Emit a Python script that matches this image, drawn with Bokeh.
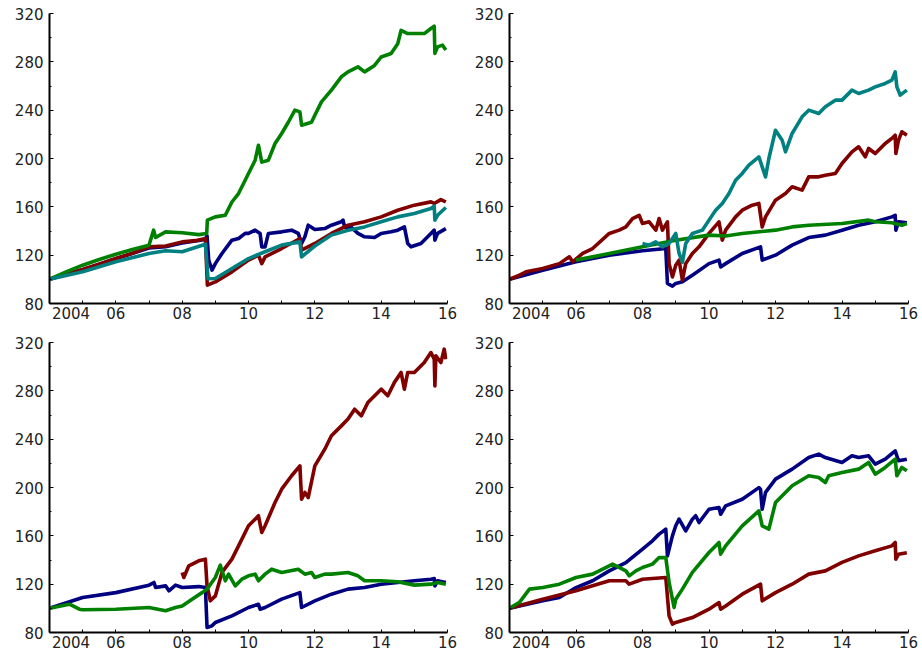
from bokeh.plotting import figure
from bokeh.layouts import column, row
from bokeh.models import FixedTicker, Range1d
from bokeh.embed import file_html
from bokeh.resources import INLINE

NAVY = "#000080"
RED = "#800000"
GREEN = "#008000"
TEAL = "#008080"

# ---- axis ticks / labels ----
Y_TICKS = [80, 120, 160, 200, 240, 280, 320]
Y_MINOR = [100, 140, 180, 220, 260, 300]
X_LABEL_POS = [2004.65, 2006, 2008, 2010, 2012, 2014, 2016]
X_LABELS = ["2004", "06", "08", "10", "12", "14", "16"]
X_YEARS = list(range(2005, 2017))

# ---- panel 1 (top-left) ----
p1_navy_x = [2004.0, 2005.0, 2006.0, 2007.0, 2007.5, 2008.0, 2008.7, 2008.75, 2008.8, 2008.9, 2009.0, 2009.2, 2009.5, 2009.7, 2009.9, 2010.0, 2010.2, 2010.35, 2010.4, 2010.5, 2010.6, 2011.0, 2011.3, 2011.5, 2011.6, 2011.7, 2011.8, 2012.0, 2012.3, 2012.5, 2012.8, 2012.85, 2012.9, 2013.1, 2013.3, 2013.5, 2013.8, 2014.0, 2014.3, 2014.5, 2014.7, 2014.8, 2014.9, 2015.2, 2015.5, 2015.6, 2015.62, 2015.7, 2015.95]
p1_navy_y = [100, 108, 117, 126, 127, 130, 133, 136, 116, 107.6, 113, 121.4, 132.4, 133.8, 138, 138, 140.7, 138, 126.9, 126.9, 138, 139.3, 140.7, 138, 129.7, 135.2, 144.8, 141.2, 142, 144.8, 147.6, 149, 143, 143, 138, 135.2, 134.6, 138, 139.3, 140.7, 143.4, 129.7, 126.9, 129.7, 138, 140.7, 132.4, 138, 142]
p1_red_x = [2004.0, 2004.5, 2005.0, 2005.5, 2006.0, 2006.5, 2007.0, 2007.5, 2008.0, 2008.4, 2008.7, 2008.76, 2009.0, 2009.5, 2010.0, 2010.3, 2010.4, 2010.5, 2011.0, 2011.55, 2011.6, 2012.0, 2012.5, 2013.0, 2013.5, 2014.0, 2014.5, 2015.0, 2015.5, 2015.6, 2015.8, 2015.95]
p1_red_y = [100, 104.5, 108.1, 112.5, 117.2, 121.5, 126.9, 127.6, 131, 132, 133.8, 95.2, 97.9, 106.2, 115.9, 120, 113, 118.6, 125.5, 133.8, 124.1, 129.7, 138, 144.8, 147.6, 151.7, 157.2, 161.4, 164.1, 162.8, 166, 164]
p1_green_x = [2004.0, 2004.5, 2005.0, 2005.5, 2006.0, 2006.5, 2007.0, 2007.14, 2007.2, 2007.5, 2008.0, 2008.5, 2008.74, 2008.76, 2009.0, 2009.3, 2009.5, 2009.7, 2010.0, 2010.2, 2010.3, 2010.4, 2010.6, 2010.8, 2011.0, 2011.2, 2011.4, 2011.55, 2011.6, 2011.9, 2012.0, 2012.2, 2012.5, 2012.8, 2013.0, 2013.3, 2013.5, 2013.8, 2014.0, 2014.3, 2014.5, 2014.6, 2014.8, 2015.0, 2015.3, 2015.5, 2015.6, 2015.62, 2015.7, 2015.85, 2015.95]
p1_green_y = [100, 106.2, 111.7, 116.4, 120.8, 124.7, 128.3, 140.7, 134.6, 139.3, 138.5, 137, 138, 149, 151.7, 153, 164, 171, 187.6, 198.6, 211, 197, 198.6, 212.4, 220.7, 230, 240, 238.6, 227.6, 230, 235.8, 246.9, 256.6, 267.6, 271.7, 275.9, 271.7, 277, 284, 286.9, 295, 306, 303.4, 303.4, 303.4, 307.6, 309.5, 287, 292.4, 293.8, 289.7]
p1_teal_x = [2004.0, 2005.0, 2006.0, 2007.0, 2007.5, 2008.0, 2008.7, 2008.78, 2009.0, 2009.5, 2010.0, 2010.5, 2011.0, 2011.55, 2011.6, 2012.0, 2012.5, 2013.0, 2013.5, 2014.0, 2014.5, 2015.0, 2015.5, 2015.6, 2015.62, 2015.7, 2015.95]
p1_teal_y = [100, 106.2, 114.5, 121.4, 123.6, 122.8, 129.1, 100.5, 100.7, 108.9, 117.2, 122.8, 128.3, 131, 118.6, 127.6, 136.6, 140.7, 143.4, 147.6, 151.7, 154.5, 158.6, 160.6, 149, 153, 159.4]

# ---- panel 2 (top-right) ----
p2_navy_x = [2004.0, 2005.0, 2006.0, 2007.0, 2008.0, 2008.7, 2008.75, 2008.9, 2009.0, 2009.2, 2009.5, 2010.0, 2010.3, 2010.35, 2010.5, 2011.0, 2011.55, 2011.6, 2012.0, 2012.5, 2013.0, 2013.5, 2014.0, 2014.5, 2015.0, 2015.5, 2015.6, 2015.62, 2015.7, 2015.95]
p2_navy_y = [100, 107.6, 114.5, 120, 123.6, 125.5, 96.6, 94.3, 96.6, 97.9, 103.4, 113, 115.9, 110.3, 113, 121.4, 126.9, 115.9, 120, 128.3, 134.6, 136.6, 140.7, 144.8, 147.6, 151.7, 153, 140.7, 147.6, 146.8]
p2_red_x = [2004.0, 2004.3, 2004.5, 2005.0, 2005.5, 2005.8, 2005.9, 2006.2, 2006.5, 2007.0, 2007.3, 2007.5, 2007.7, 2007.9, 2008.0, 2008.2, 2008.4, 2008.5, 2008.6, 2008.75, 2008.8, 2008.9, 2009.0, 2009.1, 2009.2, 2009.3, 2009.5, 2009.7, 2010.0, 2010.3, 2010.4, 2010.5, 2010.8, 2011.0, 2011.3, 2011.5, 2011.6, 2011.7, 2012.0, 2012.3, 2012.5, 2012.8, 2013.0, 2013.3, 2013.5, 2013.8, 2014.0, 2014.3, 2014.5, 2014.7, 2014.8, 2015.0, 2015.3, 2015.5, 2015.6, 2015.62, 2015.7, 2015.8, 2015.95]
p2_red_y = [100, 103.4, 106.2, 109, 113, 118.6, 114.5, 121.4, 125.5, 138, 140.7, 143.4, 150.3, 153, 146.2, 147.6, 140.7, 150.3, 140.7, 147.6, 113, 102, 111.7, 115.9, 99.3, 113, 121.4, 126.9, 138, 147.6, 132.4, 140.7, 151.7, 157.2, 161.4, 162.8, 143.4, 151.7, 165.5, 171, 176.6, 173.8, 184.8, 184.8, 186.2, 187.6, 195.9, 205.5, 209.7, 201.4, 208.3, 204.1, 212.4, 216.6, 219.3, 204.1, 215.2, 222.1, 219.3]
p2_green_x = [2006.0, 2007.0, 2008.0, 2009.0, 2010.0, 2010.5, 2011.0, 2012.0, 2012.5, 2013.0, 2014.0, 2014.8, 2015.0, 2015.5, 2015.8, 2015.95]
p2_green_y = [115.9, 121.4, 126.9, 132.4, 136.6, 135.8, 138, 140.7, 143.4, 144.8, 146.2, 149, 147.6, 146.8, 144.8, 146.2]
p2_teal_x = [2008.0, 2008.2, 2008.4, 2008.6, 2008.8, 2009.0, 2009.1, 2009.2, 2009.3, 2009.5, 2009.8, 2010.0, 2010.2, 2010.4, 2010.6, 2010.8, 2011.0, 2011.2, 2011.5, 2011.6, 2011.7, 2011.8, 2012.0, 2012.2, 2012.3, 2012.5, 2012.8, 2013.0, 2013.3, 2013.5, 2013.8, 2014.0, 2014.3, 2014.5, 2014.8, 2015.0, 2015.3, 2015.5, 2015.6, 2015.65, 2015.75, 2015.95]
p2_teal_y = [129.7, 128.3, 131, 126.9, 129.7, 138, 121.4, 114, 129.7, 138, 140.7, 149, 157.2, 162.8, 171, 182, 187.6, 194.5, 201.4, 193.1, 184.8, 200, 223.4, 215.2, 205.5, 220.7, 234.5, 240, 237.2, 242.8, 248.3, 248.3, 256.6, 253.8, 256.6, 259.3, 262.1, 264.8, 271.7, 259.3, 252.4, 256.6]

# ---- panel 3 (bottom-left) ----
p3_navy_x = [2004.0, 2005.0, 2006.0, 2007.0, 2007.15, 2007.2, 2007.5, 2007.6, 2007.8, 2008.0, 2008.5, 2008.7, 2008.75, 2008.9, 2009.0, 2009.5, 2010.0, 2010.3, 2010.35, 2010.5, 2011.0, 2011.55, 2011.6, 2012.0, 2012.5, 2013.0, 2013.5, 2014.0, 2014.5, 2015.0, 2015.5, 2015.6, 2015.62, 2015.7, 2015.95]
p3_navy_y = [100, 108.9, 113, 119.2, 121.4, 117.2, 118.6, 114.5, 119.2, 117.2, 118, 117.2, 84.1, 85.5, 88.3, 93.8, 100.7, 103.4, 99.3, 100.7, 107.6, 113, 100.7, 106.2, 111.7, 115.9, 117.2, 120, 121.4, 122.8, 124.1, 124.7, 118.6, 122.8, 121.4]
p3_red_x = [2008.0, 2008.05, 2008.2, 2008.5, 2008.7, 2008.75, 2008.85, 2009.0, 2009.2, 2009.5, 2009.7, 2010.0, 2010.2, 2010.3, 2010.4, 2010.5, 2010.8, 2011.0, 2011.3, 2011.55, 2011.6, 2011.7, 2011.8, 2012.0, 2012.3, 2012.5, 2012.8, 2013.0, 2013.2, 2013.4, 2013.6, 2014.0, 2014.2, 2014.4, 2014.6, 2014.7, 2014.8, 2015.0, 2015.3, 2015.5, 2015.6, 2015.62, 2015.65, 2015.8, 2015.9, 2015.95]
p3_red_y = [129.7, 125.5, 135.2, 139.3, 140.7, 118.6, 106.2, 110.3, 129.7, 140.7, 151.7, 168.3, 173.8, 176.6, 162.8, 168.3, 187.6, 198.6, 209.7, 217.9, 190.3, 195.9, 191.7, 217.9, 231.7, 242.8, 251, 256.6, 264.8, 259.3, 270.3, 281.4, 275.9, 287, 295.2, 281.4, 295.2, 295.2, 303.4, 311.7, 306.2, 284.1, 309, 303.4, 314.5, 306.2]
p3_green_x = [2004.0, 2004.6, 2004.9, 2005.0, 2006.0, 2007.0, 2007.5, 2007.8, 2008.0, 2008.3, 2008.6, 2008.75, 2009.0, 2009.15, 2009.3, 2009.4, 2009.6, 2009.8, 2010.0, 2010.2, 2010.3, 2010.5, 2010.7, 2011.0, 2011.5, 2011.7, 2011.9, 2012.0, 2012.3, 2012.5, 2013.0, 2013.3, 2013.5, 2014.0, 2014.5, 2015.0, 2015.5, 2015.7, 2015.95]
p3_green_y = [100, 103.4, 99.3, 98.8, 99.3, 100.7, 98, 100.7, 102, 107.6, 113, 115.9, 125.5, 135.7, 122.8, 128.3, 118.6, 124.1, 126.9, 128.3, 122.8, 128.3, 132.4, 129.7, 132.4, 128.3, 129.7, 125.5, 128.3, 128.3, 129.7, 126.9, 122.8, 122.8, 122, 119.2, 120, 121.4, 120]

# ---- panel 4 (bottom-right) ----
p4_navy_x = [2004.0, 2005.0, 2005.5, 2006.0, 2006.5, 2007.0, 2007.5, 2008.0, 2008.3, 2008.5, 2008.7, 2008.75, 2008.9, 2009.0, 2009.1, 2009.3, 2009.5, 2009.6, 2009.7, 2010.0, 2010.3, 2010.35, 2010.5, 2011.0, 2011.5, 2011.55, 2011.6, 2011.7, 2012.0, 2012.5, 2013.0, 2013.3, 2013.5, 2014.0, 2014.3, 2014.5, 2014.8, 2015.0, 2015.3, 2015.6, 2015.7, 2015.95]
p4_navy_y = [100, 106.2, 108.9, 117.2, 122.8, 131, 137.9, 149, 155.9, 161.4, 165.5, 143.4, 160, 168.3, 173.8, 164.1, 173.8, 176.6, 171, 182, 183.4, 177.9, 184.8, 190.3, 199.9, 198.6, 182, 195.9, 206.9, 215.2, 224.8, 227.6, 224.8, 220.7, 226.2, 224.8, 226.2, 219.3, 223.4, 230.3, 222.1, 223.4]
p4_red_x = [2004.0, 2005.0, 2006.0, 2007.0, 2007.5, 2007.6, 2008.0, 2008.7, 2008.8, 2008.9, 2009.0, 2009.5, 2010.0, 2010.3, 2010.35, 2010.5, 2011.0, 2011.55, 2011.6, 2012.0, 2012.5, 2013.0, 2013.5, 2014.0, 2014.5, 2015.0, 2015.5, 2015.6, 2015.62, 2015.7, 2015.95]
p4_red_y = [100, 107.6, 114.5, 122.8, 122.8, 120, 124.1, 125.5, 93.8, 86.9, 88.3, 92.4, 99.3, 104.8, 99.3, 102, 111.7, 120, 106.2, 113, 120, 128.3, 131, 138, 143.4, 147.6, 151.7, 154.5, 140.7, 144.8, 146]
p4_green_x = [2004.0, 2004.3, 2004.6, 2005.0, 2005.5, 2006.0, 2006.5, 2007.0, 2007.1, 2007.5, 2007.6, 2007.8, 2008.0, 2008.3, 2008.5, 2008.7, 2008.8, 2008.95, 2009.0, 2009.2, 2009.5, 2010.0, 2010.3, 2010.35, 2010.5, 2011.0, 2011.5, 2011.6, 2011.8, 2012.0, 2012.5, 2013.0, 2013.3, 2013.5, 2013.6, 2014.0, 2014.5, 2014.8, 2015.0, 2015.3, 2015.6, 2015.65, 2015.8, 2015.95]
p4_green_y = [100, 105, 115.9, 117.2, 120, 125.5, 128.3, 135.2, 136.6, 131, 126.9, 131, 133.8, 136.6, 142, 142, 121.4, 100.7, 107.6, 115.9, 129.7, 146.2, 154.5, 144.8, 151.7, 168.3, 180.7, 168.3, 165.5, 187.6, 201.4, 209.7, 208.3, 204.1, 209.7, 212.4, 215.2, 220.7, 211, 216.6, 223.4, 209.7, 216.6, 213.8]

FONT = "DejaVu Sans"
FSIZE = "15px"
TXT = "#222222"


def make_panel(width, height, bl, br, bt, bb, series):
    p = figure(width=width, height=height, output_backend="svg", toolbar_location=None,
               x_range=Range1d(2004, 2016), y_range=Range1d(80, 320),
               min_border_left=bl, min_border_right=br, min_border_top=bt, min_border_bottom=bb)
    p.outline_line_color = None
    p.grid.visible = False
    p.background_fill_color = "white"
    p.border_fill_color = "white"
    for xs, ys, c in series:
        p.line(xs, ys, line_color=c, line_width=3.6, line_join="round")
    xa = p.xaxis[0]
    xa.ticker = FixedTicker(ticks=X_LABEL_POS, minor_ticks=X_YEARS)
    xa.major_label_overrides = {pos: lab for pos, lab in zip(X_LABEL_POS, X_LABELS)}
    xa.major_tick_in = 0
    xa.major_tick_out = 0
    xa.minor_tick_in = 3
    xa.minor_tick_out = 0
    xa.minor_tick_line_width = 1
    xa.axis_line_width = 2
    xa.major_label_standoff = 3
    ya = p.yaxis[0]
    ya.ticker = FixedTicker(ticks=Y_TICKS, minor_ticks=Y_MINOR)
    ya.major_tick_in = 4
    ya.major_tick_out = 0
    ya.minor_tick_in = 2
    ya.minor_tick_out = 0
    ya.axis_line_width = 2
    ya.major_label_standoff = 6
    for ax in (xa, ya):
        ax.major_label_text_font = FONT
        ax.major_label_text_font_size = FSIZE
        ax.major_label_text_color = TXT
        ax.axis_line_color = "black"
        ax.major_tick_line_color = "black"
        ax.minor_tick_line_color = "black"
    return p


f1 = make_panel(460, 333, 49, 13, 13, 30, [
    (p1_navy_x, p1_navy_y, NAVY), (p1_red_x, p1_red_y, RED),
    (p1_green_x, p1_green_y, GREEN), (p1_teal_x, p1_teal_y, TEAL)])
f2 = make_panel(462, 333, 49, 14, 13, 30, [
    (p2_navy_x, p2_navy_y, NAVY), (p2_red_x, p2_red_y, RED),
    (p2_green_x, p2_green_y, GREEN), (p2_teal_x, p2_teal_y, TEAL)])
f3 = make_panel(460, 322, 49, 13, 9, 23, [
    (p3_navy_x, p3_navy_y, NAVY), (p3_red_x, p3_red_y, RED),
    (p3_green_x, p3_green_y, GREEN)])
f4 = make_panel(462, 322, 49, 14, 9, 23, [
    (p4_navy_x, p4_navy_y, NAVY), (p4_red_x, p4_red_y, RED),
    (p4_green_x, p4_green_y, GREEN)])

layout = column(row(f1, f2, spacing=0), row(f3, f4, spacing=0), spacing=0)

open("out.html", "w").write(file_html(layout, INLINE))
